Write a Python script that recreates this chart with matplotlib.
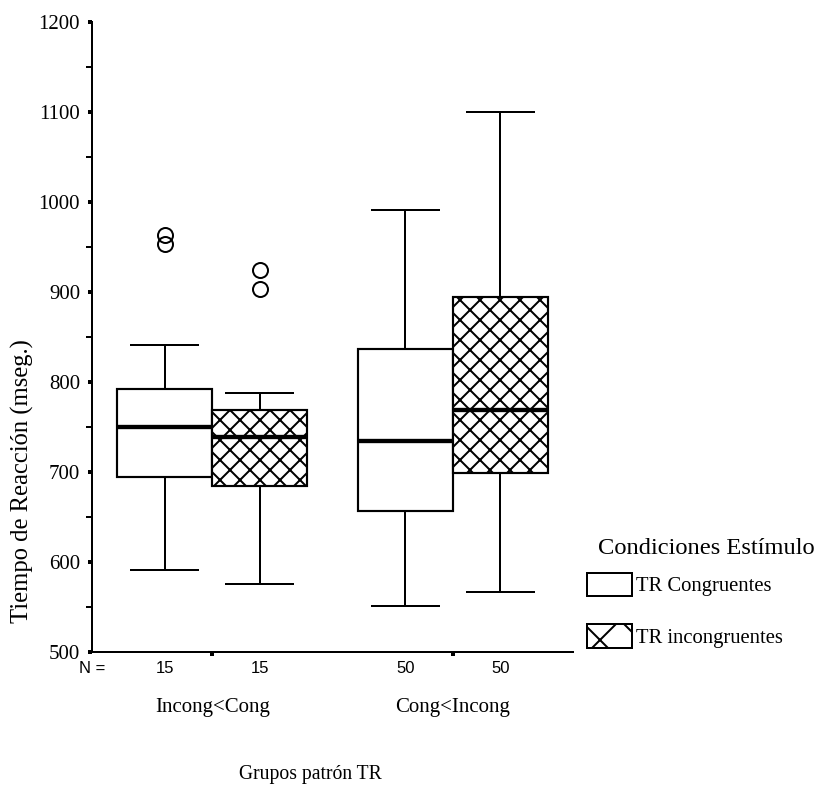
import matplotlib
matplotlib.use("Agg")
import matplotlib.pyplot as plt
from matplotlib.patches import Patch

# reaction times (ms) per pattern group and stimulus condition
groups = ["Incong<Cong", "Cong<Incong"]
conditions = ["TR Congruentes", "TR incongruentes"]
n_per_box = [15, 15, 50, 50]

whislo = [591, 576, 551, 567]
q1 = [694, 684, 657, 699]
med = [750, 739, 734, 769]
q3 = [792, 769, 837, 894]
whishi = [841, 788, 991, 1100]
fliers = [[953, 963], [903, 925], [], []]

plt.rcParams["font.family"] = ["Liberation Serif", "DejaVu Serif"]
plt.rcParams["hatch.linewidth"] = 1.2


def main():
    fig = plt.figure(figsize=(819 / 120, 787 / 120), dpi=120)
    ax = fig.add_axes([92 / 819, 1 - 652 / 787, 481 / 819, 630 / 787])

    offset = 0.1975
    width = 0.395
    positions = []
    for g in range(len(groups)):
        positions += [g + 1 - offset, g + 1 + offset]

    stats = []
    for i in range(4):
        stats.append(dict(med=med[i], q1=q1[i], q3=q3[i],
                          whislo=whislo[i], whishi=whishi[i], fliers=fliers[i]))

    bp = ax.bxp(stats, positions=positions, widths=width, capwidths=0.28,
                patch_artist=True, manage_ticks=False,
                boxprops=dict(edgecolor="black", linewidth=1.3),
                whiskerprops=dict(color="black", linewidth=1.2),
                capprops=dict(color="black", linewidth=1.2),
                medianprops=dict(color="black", linewidth=2.6),
                flierprops=dict(marker="o", markersize=9, markerfacecolor="none",
                                markeredgecolor="black", markeredgewidth=1.2))
    for i, box in enumerate(bp["boxes"]):
        box.set_facecolor("white")
        if i % 2 == 1:
            box.set_hatch("xx")

    ax.set_xlim(0.5, 2.5)
    ax.set_ylim(500, 1200)
    ax.set_yticks(range(500, 1201, 100))
    ax.set_yticks(range(550, 1200, 100), minor=True)
    ax.set_xticks([1, 2])
    ax.set_xticklabels(groups, fontsize=12.5)

    for side in ["top", "right"]:
        ax.spines[side].set_visible(False)
    for side in ["left", "bottom"]:
        ax.spines[side].set_linewidth(1.2)

    ax.tick_params(axis="y", which="major", length=2.4, width=2.4, pad=4.8, labelsize=12.5)
    ax.tick_params(axis="y", which="minor", length=3.6, width=1.2)
    ax.tick_params(axis="x", which="major", length=2.4, width=2.4, pad=25)

    ax.set_ylabel("Tiempo de Reacción (mseg.)", fontsize=14.8)
    ax.yaxis.set_label_coords(-0.121, 0.271)

    # counts under each box
    for x, n in zip(positions, n_per_box):
        ax.annotate(str(n), xy=(x, 0), xycoords=("data", "axes fraction"),
                    xytext=(0, -10), textcoords="offset points",
                    ha="center", va="center", fontsize=10, family="Liberation Sans")
    ax.annotate("N =", xy=(0, 0), xycoords="axes fraction",
                xytext=(0, -10), textcoords="offset points",
                ha="center", va="center", fontsize=10, family="Liberation Sans")

    fig.text(310 / 819, 1 - 774 / 787, "Grupos patrón TR", ha="center", va="center", fontsize=11.8)

    fig.text(598 / 819, 1 - 548 / 787, "Condiciones Estímulo", ha="left", va="center", fontsize=14.7)
    handles = [Patch(facecolor="white", edgecolor="black", linewidth=1.2),
               Patch(facecolor="white", edgecolor="black", linewidth=1.2, hatch="x")]
    fig.legend(handles, conditions, loc="upper left", bbox_to_anchor=(587 / 819, 1 - 573 / 787),
               frameon=False, fontsize=12.4, handlelength=2.2, handleheight=1.35,
               handletextpad=0.15, labelspacing=1.35, borderpad=0, borderaxespad=0)

    fig.savefig("out.png", dpi=120)


if __name__ == "__main__":
    main()
